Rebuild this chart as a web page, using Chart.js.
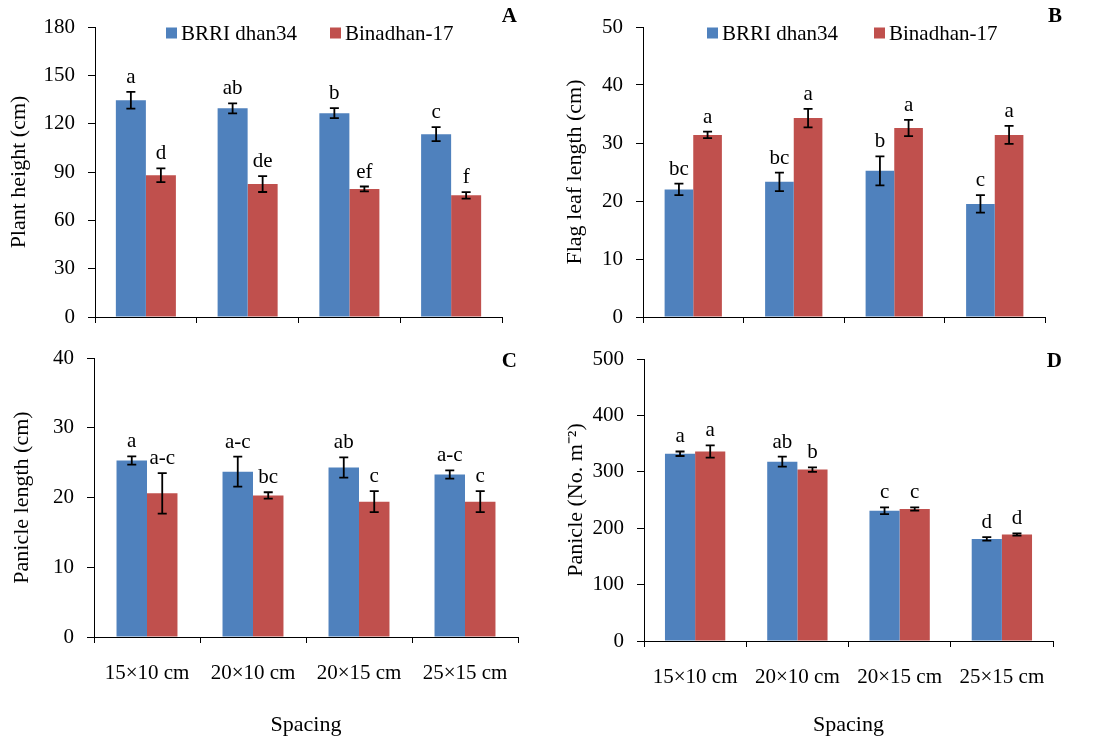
<!DOCTYPE html>
<html>
<head>
<meta charset="utf-8">
<script src="https://cdn.jsdelivr.net/npm/chart.js@4/dist/chart.umd.min.js"></script>
<style>
  html, body { margin: 0; padding: 0; background: #fff; }
  #wrap { position: relative; width: 1107px; height: 738px; }
  canvas { position: absolute; }
</style>
</head>
<body>
<div id="wrap">
  <canvas id="cA" width="550" height="330" style="left:0;top:0"></canvas>
  <canvas id="cB" width="557" height="330" style="left:550px;top:0"></canvas>
  <canvas id="cC" width="550" height="408" style="left:0;top:330px"></canvas>
  <canvas id="cD" width="557" height="408" style="left:550px;top:330px"></canvas>
</div>
<script>
const spacing = ['15×10 cm', '20×10 cm', '20×15 cm', '25×15 cm'];
const seriesNames = ['BRRI dhan34', 'Binadhan-17'];

// A - plant height
const heightBrri = [134.5, 129.5, 126.5, 113.5];
const heightBrriErr = [5.2, 3.1, 3.1, 4.3];
const heightBina = [88, 82.5, 79.5, 75.5];
const heightBinaErr = [4.3, 4.9, 1.5, 2];
const heightBrriLetters = ['a', 'ab', 'b', 'c'];
const heightBinaLetters = ['d', 'de', 'ef', 'f'];

// B - flag leaf length
const flagBrri = [22, 23.3, 25.2, 19.5];
const flagBrriErr = [1, 1.6, 2.5, 1.5];
const flagBina = [31.4, 34.3, 32.6, 31.4];
const flagBinaErr = [0.55, 1.6, 1.4, 1.55];
const flagBrriLetters = ['bc', 'bc', 'b', 'c'];
const flagBinaLetters = ['a', 'a', 'a', 'a'];

// C - panicle length
const panLenBrri = [25.3, 23.7, 24.3, 23.3];
const panLenBrriErr = [0.6, 2.15, 1.45, 0.6];
const panLenBina = [20.6, 20.3, 19.4, 19.4];
const panLenBinaErr = [2.9, 0.45, 1.5, 1.5];
const panLenBrriLetters = ['a', 'a-c', 'ab', 'a-c'];
const panLenBinaLetters = ['a-c', 'bc', 'c', 'c'];

// D - panicle number
const panNoBrri = [332, 318, 231, 181];
const panNoBrriErr = [4, 9, 6, 3];
const panNoBina = [336, 304, 234, 189];
const panNoBinaErr = [11, 4, 3, 2];
const panNoBrriLetters = ['a', 'ab', 'c', 'd'];
const panNoBinaLetters = ['a', 'b', 'c', 'd'];

const FONT = '"Liberation Serif", "Times New Roman", serif';
const BLUE = '#4F81BD';
const RED = '#C0504D';

const errorBars = {
  id: 'errorBars',
  afterDatasetsDraw(chart) {
    const ctx = chart.ctx;
    const y = chart.scales.y;
    ctx.save();
    chart.data.datasets.forEach((ds, i) => {
      const meta = chart.getDatasetMeta(i);
      meta.data.forEach((bar, j) => {
        const v = ds.data[j];
        const e = ds.errors[j];
        const top = y.getPixelForValue(v + e);
        const bot = y.getPixelForValue(v - e);
        ctx.strokeStyle = '#000';
        ctx.lineWidth = 1.8;
        ctx.beginPath();
        ctx.moveTo(bar.x, top);
        ctx.lineTo(bar.x, bot);
        ctx.moveTo(bar.x - 4.5, top);
        ctx.lineTo(bar.x + 4.5, top);
        ctx.moveTo(bar.x - 4.5, bot);
        ctx.lineTo(bar.x + 4.5, bot);
        ctx.stroke();
        ctx.fillStyle = '#000';
        ctx.font = '21px ' + FONT;
        ctx.textAlign = 'center';
        ctx.textBaseline = 'alphabetic';
        ctx.fillText(ds.letters[j], bar.x, top - 9);
      });
    });
    ctx.restore();
  }
};

const decorations = {
  id: 'decorations',
  afterDraw(chart, args, opts) {
    const ctx = chart.ctx;
    ctx.save();
    ctx.fillStyle = '#000';
    ctx.font = 'bold 21px ' + FONT;
    ctx.textAlign = 'right';
    ctx.textBaseline = 'middle';
    ctx.fillText(opts.letter, opts.letterX, opts.letterY);
    if (opts.legendX) {
      chart.data.datasets.forEach((ds, i) => {
        const x = opts.legendX[i];
        ctx.fillStyle = ds.backgroundColor;
        ctx.fillRect(x, opts.legendY - 5.5, 11, 11);
        ctx.fillStyle = '#000';
        ctx.font = '21px ' + FONT;
        ctx.textAlign = 'left';
        ctx.fillText(ds.label, x + 15, opts.legendY + 1);
      });
    }
    ctx.restore();
  }
};

function makePanel(id, p) {
  const canvas = document.getElementById(id);
  const H = canvas.height;
  return new Chart(canvas, {
    type: 'bar',
    data: {
      labels: spacing,
      datasets: [
        { label: seriesNames[0], data: p.brri, errors: p.brriErr, letters: p.brriLetters, backgroundColor: BLUE },
        { label: seriesNames[1], data: p.bina, errors: p.binaErr, letters: p.binaLetters, backgroundColor: RED }
      ]
    },
    options: {
      responsive: false,
      devicePixelRatio: 1,
      animation: false,
      categoryPercentage: p.catPct,
      barPercentage: 1,
      layout: { padding: { left: 0, top: p.top, right: p.right, bottom: 0 } },
      plugins: {
        legend: { display: false },
        tooltip: { enabled: false },
        decorations: { letter: p.letter, letterX: p.letterX, letterY: p.letterY, legendX: p.legendX, legendY: p.legendY }
      },
      scales: {
        x: {
          offset: true,
          grid: { offset: true, drawOnChartArea: false, tickLength: 6, color: '#000', lineWidth: 1 },
          border: { color: '#000', width: 1 },
          ticks: { display: p.showX, color: '#000', font: { family: FONT, size: 21 }, padding: 18, maxRotation: 0 },
          title: { display: p.showX, text: 'Spacing', color: '#000', font: { family: FONT, size: 22 }, padding: { top: 0, bottom: 0 } },
          afterFit: s => { s.height = H - p.bottom; }
        },
        y: {
          min: 0,
          max: p.max,
          ticks: { stepSize: p.step, color: '#000', font: { family: FONT, size: 21 }, padding: 13 },
          grid: { drawOnChartArea: false, tickLength: 7, color: '#000', lineWidth: 1 },
          border: { color: '#000', width: 1 },
          title: { display: true, text: p.yTitle, color: '#000', font: { family: FONT, size: 22 }, padding: { top: p.titlePad, bottom: 0 } },
          afterFit: s => { s.width = p.axisLeft; s.paddingTop = 0; s.paddingBottom = 0; }
        }
      }
    },
    plugins: [errorBars, decorations]
  });
}

makePanel('cA', {
  brri: heightBrri, brriErr: heightBrriErr, brriLetters: heightBrriLetters,
  bina: heightBina, binaErr: heightBinaErr, binaLetters: heightBinaLetters,
  max: 180, step: 30, yTitle: 'Plant height (cm)', showX: false, titlePad: 6,
  axisLeft: 95, top: 27, right: 48, bottom: 317, catPct: 0.59,
  letter: 'A', letterX: 517, letterY: 17, legendX: [166, 330], legendY: 33
});

makePanel('cB', {
  brri: flagBrri, brriErr: flagBrriErr, brriLetters: flagBrriLetters,
  bina: flagBina, binaErr: flagBinaErr, binaLetters: flagBinaLetters,
  max: 50, step: 10, yTitle: 'Flag leaf length (cm)', showX: false, titlePad: 12,
  axisLeft: 93, top: 27, right: 62, bottom: 317, catPct: 0.57,
  letter: 'B', letterX: 512, letterY: 17, legendX: [157, 324], legendY: 33
});

makePanel('cC', {
  brri: panLenBrri, brriErr: panLenBrriErr, brriLetters: panLenBrriLetters,
  bina: panLenBina, binaErr: panLenBinaErr, binaLetters: panLenBinaLetters,
  max: 40, step: 10, yTitle: 'Panicle length (cm)', showX: true, titlePad: 9,
  axisLeft: 94, top: 28, right: 32, bottom: 307, catPct: 0.575,
  letter: 'C', letterX: 517, letterY: 32
});

makePanel('cD', {
  brri: panNoBrri, brriErr: panNoBrriErr, brriLetters: panNoBrriLetters,
  bina: panNoBina, binaErr: panNoBinaErr, binaLetters: panNoBinaLetters,
  max: 500, step: 100, yTitle: 'Panicle (No. m\u207B\u00B2)', showX: true, titlePad: 13,
  axisLeft: 94, top: 29, right: 54, bottom: 311, catPct: 0.59,
  letter: 'D', letterX: 512, letterY: 32
});
</script>
</body>
</html>
